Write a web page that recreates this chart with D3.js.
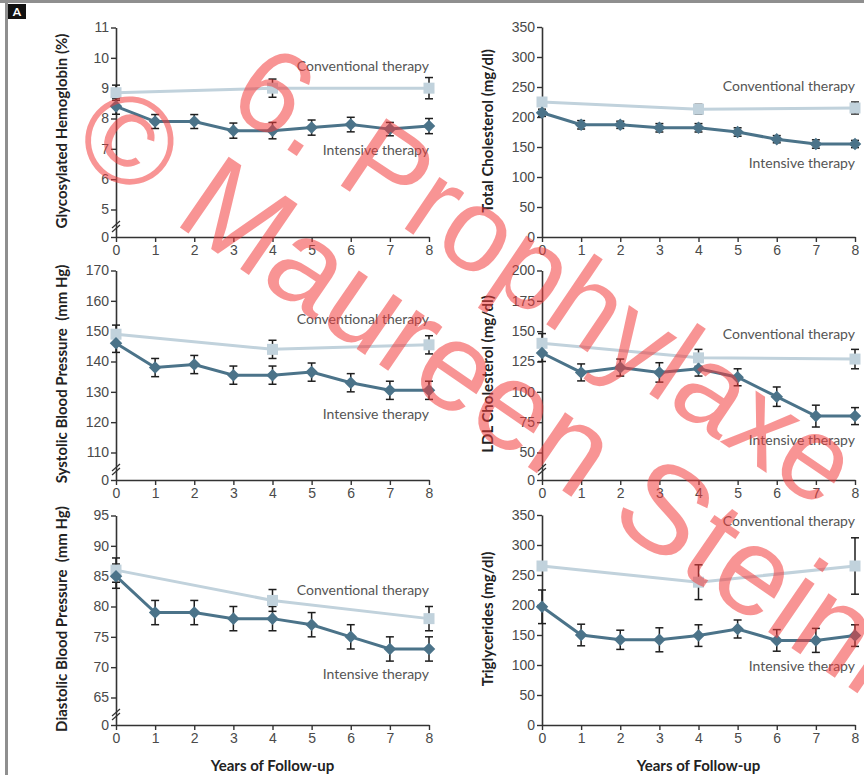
<!DOCTYPE html>
<html>
<head>
<meta charset="utf-8">
<script src="https://cdn.jsdelivr.net/npm/d3@7"></script>
<style>
  body { margin: 0; background: #fff; }
  svg { display: block; font-family: Lato, "Open Sans", sans-serif; }
</style>
</head>
<body>
<svg id="chart" width="864" height="775"></svg>
<script>
// years of follow-up; conventional arm only measured at 0, 4 and 8
const years = [0, 1, 2, 3, 4, 5, 6, 7, 8];
const convYears = [0, 4, 8];

const hba1cIntensive = [8.4, 7.9, 7.9, 7.6, 7.6, 7.7, 7.8, 7.65, 7.75];
const hba1cIntensiveErr = [0.26, 0.23, 0.23, 0.25, 0.27, 0.25, 0.24, 0.22, 0.25];
const hba1cConventional = [8.85, 9.0, 9.0];
const hba1cConventionalErr = [0.25, 0.3, 0.35];
const hba1cTicks = [0, 5, 6, 7, 8, 9, 10, 11];

const cholIntensive = [207, 187, 187, 182, 182, 175, 163, 155, 155];
const cholIntensiveErr = [6, 7, 6, 7, 7, 7, 6, 7, 6];
const cholConventional = [225, 213, 215];
const cholConventionalErr = [7, 8, 10];
const cholTicks = [0, 50, 100, 150, 200, 250, 300, 350];

const sbpIntensive = [146, 138, 139, 135.5, 135.5, 136.5, 133, 130.5, 130.5];
const sbpIntensiveErr = [3, 3, 3, 3, 3, 3, 3, 3, 3];
const sbpConventional = [149, 144, 145.5];
const sbpConventionalErr = [3, 3, 3];
const sbpTicks = [0, 110, 120, 130, 140, 150, 160, 170];

const ldlIntensive = [132, 116, 120, 116, 119, 112, 96, 80, 80];
const ldlIntensiveErr = [7, 7, 7, 8, 6, 7, 8, 9, 7];
const ldlConventional = [140, 128, 127];
const ldlConventionalErr = [8, 7, 8];
const ldlTicks = [0, 50, 75, 100, 125, 150, 175, 200];

const dbpIntensive = [85, 79, 79, 78, 78, 77, 75, 73, 73];
const dbpIntensiveErr = [2, 2, 2, 2, 2, 2, 2, 2, 2];
const dbpConventional = [86, 81, 78];
const dbpConventionalErr = [2, 1.8, 2];
const dbpTicks = [0, 65, 70, 75, 80, 85, 90, 95];

const trigIntensive = [197, 150, 142, 142, 149, 160, 141, 141, 149];
const trigIntensiveErr = [28, 18, 16, 20, 18, 15, 18, 20, 18];
const trigConventional = [265, 238, 265];
const trigConventionalErr = [4, 29, 47];
const trigTicks = [0, 50, 100, 150, 200, 250, 300, 350];

const yTitles = [
  'Glycosylated Hemoglobin (%)', 'Total Cholesterol (mg/dl)',
  'Systolic Blood Pressure  (mm Hg)', 'LDL Cholesterol (mg/dl)',
  'Diastolic Blood Pressure  (mm Hg)', 'Triglycerides (mg/dl)'
];

const intColor = '#4b7389';
const convColor = '#c1d2dc';
const plotW = 313;
const colX = [116, 542];
const rowZero = [237, 480, 725];

// layout per panel: label offsets above the x axis
const panels = [
  { col: 0, row: 0, title: yTitles[0], ticks: hba1cTicks, broken: true,
    int: hba1cIntensive, intErr: hba1cIntensiveErr, conv: hba1cConventional, convErr: hba1cConventionalErr,
    convLabel: 166, intLabel: 82 },
  { col: 1, row: 0, title: yTitles[1], ticks: cholTicks, broken: false,
    int: cholIntensive, intErr: cholIntensiveErr, conv: cholConventional, convErr: cholConventionalErr,
    convLabel: 146, intLabel: 69 },
  { col: 0, row: 1, title: yTitles[2], ticks: sbpTicks, broken: true,
    int: sbpIntensive, intErr: sbpIntensiveErr, conv: sbpConventional, convErr: sbpConventionalErr,
    convLabel: 156, intLabel: 61 },
  { col: 1, row: 1, title: yTitles[3], ticks: ldlTicks, broken: true,
    int: ldlIntensive, intErr: ldlIntensiveErr, conv: ldlConventional, convErr: ldlConventionalErr,
    convLabel: 141, intLabel: 35 },
  { col: 0, row: 2, title: yTitles[4], ticks: dbpTicks, broken: true,
    int: dbpIntensive, intErr: dbpIntensiveErr, conv: dbpConventional, convErr: dbpConventionalErr,
    convLabel: 130, intLabel: 46 },
  { col: 1, row: 2, title: yTitles[5], ticks: trigTicks, broken: false,
    int: trigIntensive, intErr: trigIntensiveErr, conv: trigConventional, convErr: trigConventionalErr,
    convLabel: 199, intLabel: 54 }
];

const svg = d3.select('#chart');

// frame and panel letter
svg.append('rect').attr('x', 0).attr('y', 0).attr('width', 864).attr('height', 3).attr('fill', '#8f8f8f');
svg.append('rect').attr('x', 5).attr('y', 0).attr('width', 3).attr('height', 775).attr('fill', '#8f8f8f');
svg.append('rect').attr('x', 8).attr('y', 4).attr('width', 18).attr('height', 15).attr('fill', '#111');
svg.append('text').attr('x', 17).attr('y', 16).attr('text-anchor', 'middle')
  .attr('fill', '#fff').attr('font-size', 12).attr('font-weight', 'bold').text('A');

panels.forEach((p) => {
  const x0 = colX[p.col];
  const zero = rowZero[p.row];
  const top = p.ticks[p.ticks.length - 1];
  const x = d3.scaleLinear().domain([0, 8]).range([x0, x0 + plotW]);
  const y = p.broken
    ? d3.scaleLinear().domain([0, p.ticks[1], top]).range([zero, zero - 27.5, zero - 209.5])
    : d3.scaleLinear().domain([0, top]).range([zero, zero - 210]);

  const g = svg.append('g');

  const yAxis = g.append('g')
    .attr('transform', `translate(${x0},0)`)
    .call(d3.axisLeft(y).tickValues(p.ticks).tickSize(5).tickSizeOuter(0).tickPadding(2));
  const xAxis = g.append('g')
    .attr('transform', `translate(0,${zero})`)
    .call(d3.axisBottom(x).tickValues(years).tickSize(5).tickSizeOuter(0).tickPadding(3));

  [yAxis, xAxis].forEach((a) => {
    a.select('.domain').attr('stroke', '#333').attr('stroke-width', 1.6);
    a.selectAll('.tick line').attr('stroke', '#333').attr('stroke-width', 1.4);
    a.selectAll('.tick text').attr('fill', '#4a4a4a').attr('font-size', 14);
  });

  if (p.broken) {
    [-2, 2].forEach((off) => {
      g.append('line')
        .attr('x1', x0 - 4).attr('y1', zero - 10 + off + 3)
        .attr('x2', x0 + 4).attr('y2', zero - 10 + off - 4)
        .attr('stroke', '#333').attr('stroke-width', 1.2);
    });
  }

  g.append('text')
    .attr('transform', `translate(${x0 - 54},${zero - 106}) rotate(-90)`)
    .attr('text-anchor', 'middle').attr('dy', '0.35em')
    .attr('font-size', 15).attr('font-weight', 'bold').attr('fill', '#222')
    .style('white-space', 'pre')
    .text(p.title);

  const convPts = convYears.map((yr, i) => ({ yr, v: p.conv[i], e: p.convErr[i] }));
  const intPts = years.map((yr, i) => ({ yr, v: p.int[i], e: p.intErr[i] }));
  const line = d3.line().x((d) => x(d.yr)).y((d) => y(d.v));

  g.append('path').datum(convPts).attr('d', line)
    .attr('fill', 'none').attr('stroke', convColor).attr('stroke-width', 3);
  g.append('path').datum(intPts).attr('d', line)
    .attr('fill', 'none').attr('stroke', intColor).attr('stroke-width', 3);

  const bars = g.append('g').attr('stroke', '#1e1e1e').attr('stroke-width', 1.5);
  convPts.concat(intPts).forEach((d) => {
    const cx = x(d.yr);
    const y1 = y(d.v + d.e);
    const y2 = y(d.v - d.e);
    bars.append('line').attr('x1', cx).attr('x2', cx).attr('y1', y1).attr('y2', y2);
    bars.append('line').attr('x1', cx - 4).attr('x2', cx + 4).attr('y1', y1).attr('y2', y1);
    bars.append('line').attr('x1', cx - 4).attr('x2', cx + 4).attr('y1', y2).attr('y2', y2);
  });

  g.selectAll('.sq').data(convPts).enter().append('rect')
    .attr('x', (d) => x(d.yr) - 5.5).attr('y', (d) => y(d.v) - 5.5)
    .attr('width', 11).attr('height', 11).attr('fill', convColor);
  g.selectAll('.dm').data(intPts).enter().append('path')
    .attr('d', d3.symbol().type(d3.symbolDiamond2).size(100))
    .attr('transform', (d) => `translate(${x(d.yr)},${y(d.v)})`)
    .attr('fill', intColor);

  g.append('text').attr('x', x(8)).attr('y', zero - p.convLabel)
    .attr('text-anchor', 'end').attr('font-size', 14).attr('fill', '#555')
    .text('Conventional therapy');
  g.append('text').attr('x', x(8)).attr('y', zero - p.intLabel)
    .attr('text-anchor', 'end').attr('font-size', 14).attr('fill', '#555')
    .text('Intensive therapy');
});

colX.forEach((x0) => {
  svg.append('text').attr('x', x0 + plotW / 2).attr('y', 771)
    .attr('text-anchor', 'middle').attr('font-size', 15).attr('font-weight', 'bold').attr('fill', '#222')
    .text('Years of Follow-up');
});

// watermark over the figure
const wm = svg.append('g')
  .attr('font-family', '"Liberation Sans", Arial, sans-serif')
  .attr('fill', '#f23c3c').attr('fill-opacity', 0.55)
  .style('pointer-events', 'none');
wm.append('text').attr('transform', 'translate(224,107) rotate(34)')
  .attr('font-size', 118).text('6. Prophylaxe');
wm.append('text').attr('transform', 'translate(67,150) rotate(34.5)')
  .attr('font-size', 125).text('© Maureen Steinig');
</script>
</body>
</html>
